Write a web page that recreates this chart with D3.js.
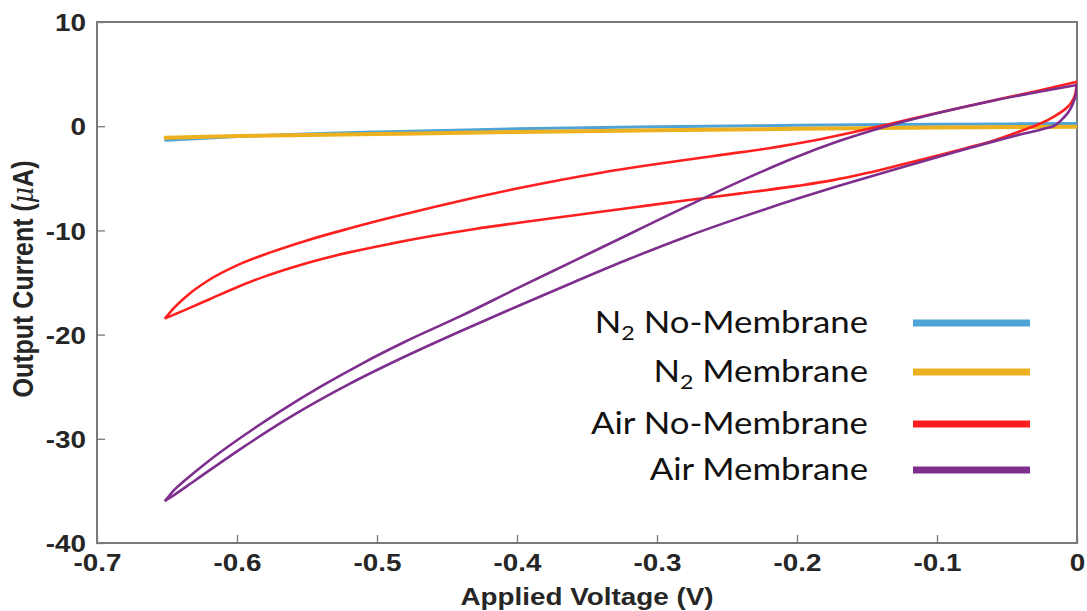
<!DOCTYPE html>
<html>
<head>
<meta charset="utf-8">
<script src="https://cdn.jsdelivr.net/npm/d3@7"></script>
<style>
  html, body { margin: 0; padding: 0; background: #fff; }
  svg { display: block; }
</style>
</head>
<body>
<svg id="chart" width="1087" height="611"></svg>
<script>
// ---------------- data ----------------
const voltageTicks = [-0.7, -0.6, -0.5, -0.4, -0.3, -0.2, -0.1, 0];
const currentTicks = [-40, -30, -20, -10, 0, 10];

// [Applied Voltage (V), Output Current (uA)]
const n2NoMembrane = [
  [-0.651, -1.35], [-0.6, -1.0], [-0.5, -0.55], [-0.4, -0.25], [-0.3, -0.05],
  [-0.2, 0.08], [-0.1, 0.18], [0, 0.25]
];
const n2Membrane = [
  [-0.651, -1.1], [-0.6, -0.95], [-0.5, -0.75], [-0.4, -0.55], [-0.3, -0.4],
  [-0.2, -0.25], [-0.1, -0.12], [0, -0.05]
];
// Air, no membrane: forward sweep (0 -> -0.65 V) and reverse sweep (-0.65 -> 0 V)
const airNoMembraneForward = [
  [0, 4.27], [-0.001, 3.25], [-0.003, 2.5], [-0.006, 1.95], [-0.012, 1.3],
  [-0.02, 0.65], [-0.03, 0.05], [-0.042, -0.55], [-0.06, -1.4], [-0.08, -2.13],
  [-0.1, -2.83], [-0.125, -3.68], [-0.15, -4.5], [-0.175, -5.2], [-0.2, -5.73],
  [-0.24, -6.45], [-0.28, -7.13], [-0.32, -7.85], [-0.36, -8.57], [-0.4, -9.29],
  [-0.43, -9.86], [-0.46, -10.52], [-0.49, -11.27], [-0.52, -12.11], [-0.54, -12.77],
  [-0.56, -13.53], [-0.58, -14.41], [-0.6, -15.45], [-0.62, -16.63], [-0.635, -17.51],
  [-0.645, -18.08], [-0.651, -18.4]
];
const airNoMembraneReverse = [
  [-0.651, -18.4], [-0.645, -17.44], [-0.635, -16.19], [-0.62, -14.76], [-0.6, -13.36],
  [-0.575, -12.06], [-0.55, -10.96], [-0.52, -9.82], [-0.49, -8.77], [-0.46, -7.78],
  [-0.43, -6.85], [-0.4, -5.98], [-0.37, -5.18], [-0.34, -4.46], [-0.31, -3.82],
  [-0.28, -3.24], [-0.25, -2.68], [-0.22, -2.11], [-0.19, -1.42], [-0.16, -0.58],
  [-0.13, 0.34], [-0.1, 1.27], [-0.06, 2.47], [-0.03, 3.34], [0, 4.27]
];
// Air, membrane
const airMembraneForward = [
  [0, 3.95], [-0.0005, 3.3], [-0.002, 2.5], [-0.005, 1.6], [-0.01, 0.75],
  [-0.015, 0.15], [-0.025, -0.3], [-0.04, -0.78], [-0.06, -1.48], [-0.08, -2.22],
  [-0.1, -2.98], [-0.136, -4.37], [-0.17, -5.72], [-0.2, -6.97], [-0.24, -8.75],
  [-0.28, -10.65], [-0.32, -12.75], [-0.36, -15.0], [-0.4, -17.3], [-0.44, -19.65],
  [-0.48, -22.1], [-0.52, -24.75], [-0.56, -27.75], [-0.6, -31.2], [-0.63, -34.0],
  [-0.645, -35.4], [-0.651, -35.9]
];
const airMembraneReverse = [
  [-0.651, -35.9], [-0.645, -34.92], [-0.638, -34.08], [-0.62, -32.1], [-0.6, -30.14],
  [-0.57, -27.44], [-0.54, -24.98], [-0.51, -22.73], [-0.48, -20.69], [-0.44, -18.21],
  [-0.4, -15.57], [-0.36, -12.97], [-0.32, -10.37], [-0.28, -7.77], [-0.24, -5.25],
  [-0.2, -2.93], [-0.17, -1.43], [-0.136, 0.0], [-0.1, 1.25], [-0.06, 2.45],
  [-0.03, 3.23], [0, 3.95]
];

const seriesNames = ["N2 No-Membrane", "N2 Membrane", "Air No-Membrane", "Air Membrane"];
const seriesColors = ["#4fa3d6", "#edb120", "#ff1f1f", "#7e2f8e"];
const seriesBranches = [
  [n2NoMembrane],
  [n2Membrane],
  [airNoMembraneForward, airNoMembraneReverse],
  [airMembraneForward, airMembraneReverse]
];
const legendParts = [
  [["N", ""], ["2", "sub"], [" No-Membrane", ""]],
  [["N", ""], ["2", "sub"], [" Membrane", ""]],
  [["Air No-Membrane", ""]],
  [["Air Membrane", ""]]
];

// ---------------- layout ----------------
const W = 1087, H = 611;
const margin = { left: 97, right: 10, top: 22, bottom: 68 };
const iw = W - margin.left - margin.right;
const ih = H - margin.top - margin.bottom;
const SX = 1.16; // horizontal stretch of text
const axisColor = "#7a7a7a";
const textColor = "#262626";

const svg = d3.select("#chart");
const g = svg.append("g").attr("transform", `translate(${margin.left},${margin.top})`);

const x = d3.scaleLinear().domain([-0.7, 0]).range([0, iw]);
const y = d3.scaleLinear().domain([-40, 10]).range([ih, 0]);

svg.append("defs").append("clipPath").attr("id", "clip")
  .append("rect").attr("x", -2).attr("width", iw + 2).attr("height", ih);

// axes
function styleAxis(sel) {
  sel.select(".domain").remove();
  sel.selectAll(".tick line").attr("stroke", axisColor).attr("stroke-width", 1.3);
  sel.selectAll(".tick text")
    .attr("fill", textColor)
    .style("font-family", "'Liberation Sans', Arial, sans-serif")
    .style("font-weight", "bold")
    .style("font-size", "24px");
}
const xAxis = g.append("g").attr("transform", `translate(0,${ih})`)
  .call(d3.axisBottom(x).tickValues(voltageTicks).tickSizeInner(-8).tickSizeOuter(0)
    .tickFormat(d => d === 0 ? "0" : d3.format(".1f")(d).replace("−", "-")));
styleAxis(xAxis);
xAxis.selectAll(".tick text").attr("y", 28).attr("dy", 0)
  .attr("transform", `scale(${SX},1)`);

const yAxis = g.append("g")
  .call(d3.axisLeft(y).tickValues(currentTicks).tickSizeInner(-8).tickSizeOuter(0)
    .tickFormat(d => String(d)));
styleAxis(yAxis);
yAxis.selectAll(".tick text").attr("x", -11 / SX).attr("dy", "0.36em")
  .attr("transform", `scale(${SX},1)`);

// box
g.append("rect").attr("width", iw).attr("height", ih)
  .attr("fill", "none").attr("stroke", axisColor).attr("stroke-width", 2);

// axis titles
svg.append("text")
  .attr("transform", `translate(${margin.left + iw / 2},605) scale(${SX},1)`)
  .attr("text-anchor", "middle")
  .attr("fill", textColor)
  .style("font-family", "'Liberation Sans', Arial, sans-serif")
  .style("font-weight", "bold").style("font-size", "24px")
  .text("Applied Voltage (V)");

const yl = svg.append("text")
  .attr("transform", `translate(33,279) scale(${SX},1) rotate(-90)`)
  .attr("text-anchor", "middle")
  .attr("fill", textColor)
  .style("font-family", "'Liberation Sans', Arial, sans-serif")
  .style("font-weight", "bold").style("font-size", "25px");
yl.append("tspan").text("Output Current (");
yl.append("tspan").style("font-style", "italic").style("font-weight", "normal")
  .style("font-family", "'DejaVu Serif', serif").text("μ");
yl.append("tspan").text("A)");

// lines: each sweep branch drawn as its own monotone curve
const line = d3.line()
  .x(d => x(d[0])).y(d => y(d[1]))
  .curve(d3.curveMonotoneX);
const widths = [3, 4, 2.6, 2.6];
const plot = g.append("g").attr("clip-path", "url(#clip)");
seriesBranches.forEach((branches, i) => {
  branches.forEach(data => {
    const sorted = data.slice().sort((a, b) => a[0] - b[0]);
    plot.append("path").datum(sorted)
      .attr("fill", "none")
      .attr("stroke", seriesColors[i])
      .attr("stroke-width", widths[i])
      .attr("stroke-linejoin", "round")
      .attr("stroke-linecap", "round")
      .attr("d", line);
  });
});

// legend
const legendY = [323, 372, 424, 470];
const legend = svg.append("g");
legendParts.forEach((parts, i) => {
  const t = legend.append("text")
    .attr("transform", `translate(868,${legendY[i] + 10}) scale(${SX},1)`)
    .attr("text-anchor", "end")
    .attr("fill", "#111")
    .style("font-family", "Lato, 'Open Sans', sans-serif")
    .style("font-size", "30px");
  parts.forEach((p, k) => {
    const ts = t.append("tspan").text(p[0]);
    if (p[1] === "sub") ts.style("font-size", "20px").attr("dy", 7);
    else if (k > 0) ts.attr("dy", -7);
  });
  legend.append("line")
    .attr("x1", 913).attr("x2", 1030)
    .attr("y1", legendY[i]).attr("y2", legendY[i])
    .attr("stroke", seriesColors[i]).attr("stroke-width", 7);
});
</script>
</body>
</html>
